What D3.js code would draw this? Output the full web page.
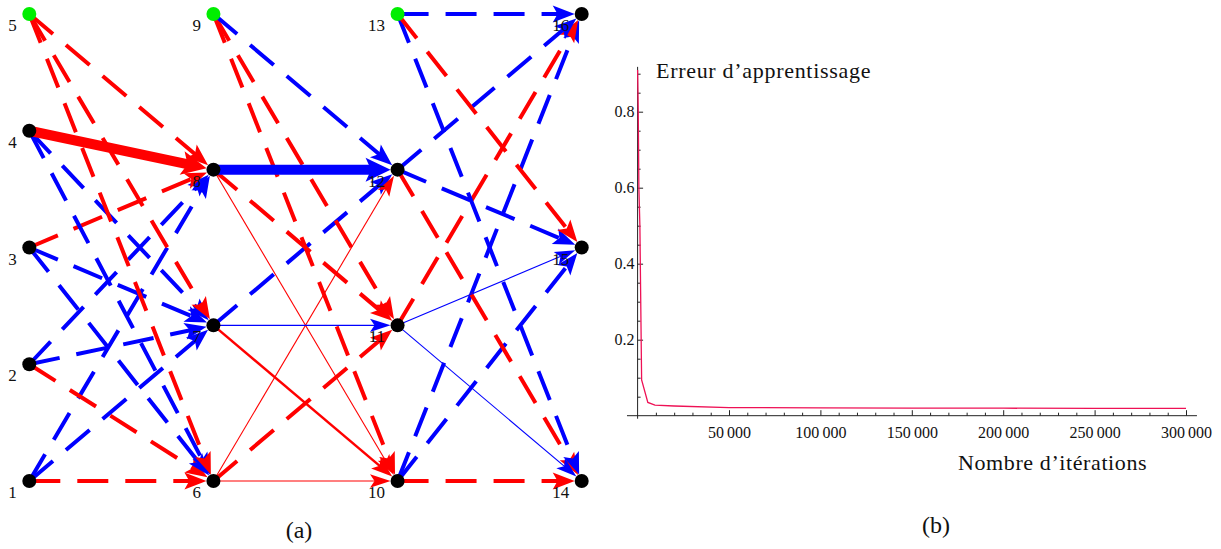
<!DOCTYPE html>
<html><head><meta charset="utf-8">
<script src="https://cdn.jsdelivr.net/npm/d3@7"></script>
<style>body{margin:0;background:#fff}svg{display:block}</style>
</head><body>
<svg id="chart" width="1221" height="549"></svg>
<script>
// ---------------- (a) network data ----------------
const layers = [[1,2,3,4,5],[6,7,8,9],[10,11,12,13],[14,15,16]];
const biasNodes = [5,9,13];
const edgeFrom   = [1,1,1, 2,2,2, 3,3,3, 4,4,4, 5,5,5,  6,6,6, 7,7,7, 8,8,8, 9,9,9,  10,10,10, 11,11,11, 12,12,12, 13,13,13];
const edgeTo     = [6,7,8, 6,7,8, 6,7,8, 6,7,8, 6,7,8,  10,11,12, 10,11,12, 10,11,12, 10,11,12,  14,15,16, 14,15,16, 14,15,16, 14,15,16];
const edgeWeight = [0.5,-0.5,-0.5, 0.5,-0.5,-0.5, -0.5,-0.5,0.5, -0.5,-0.5,4.0, 0.5,0.5,0.5,
                    0.4,0.5,0.4, 1.0,-0.45,-0.5, 0.4,0.5,-4.0, 0.5,0.5,-0.5,
                    0.5,-0.5,-0.5, -0.45,-0.45,0.5, 0.5,-0.5,-0.5, -0.5,0.5,-0.5];
const edgeDashed = [1,1,1, 1,1,1, 1,1,1, 1,1,0, 1,1,1,
                    0,1,0, 0,0,1, 0,1,0, 1,1,1,
                    1,1,1, 0,0,1, 1,1,1, 1,1,1];

// ---------------- (b) learning curve data ----------------
const iterations = [0, 330, 700, 1250, 2200, 5600, 9500, 20000, 50000, 100000, 150000, 200000, 250000, 300000];
const errors     = [0.91, 0.81, 0.60, 0.50, 0.094, 0.035, 0.028, 0.0255, 0.0215, 0.0205, 0.020, 0.0197, 0.0195, 0.0193];
const xMajorTicks = [50000, 100000, 150000, 200000, 250000, 300000];
const yMajorTicks = [0.2, 0.4, 0.6, 0.8];
const xTitle = "Nombre d\u2019itérations";
const yTitle = "Erreur d\u2019apprentissage";
const panelLabels = ["(a)", "(b)"];

const svg = d3.select("#chart");
const serif = "'Liberation Serif', 'Times New Roman', serif";

// ================= (a) =================
const gx = d3.scaleLinear().domain([0, 3]).range([29.3, 581.7]);
const gy = d3.scaleLinear().domain([0, 1]).range([481, 14]);
const nodes = new Map();
layers.forEach((ids, L) => ids.forEach((id, i) => {
  nodes.set(id, {id, x: gx(L), y: gy(i / (ids.length - 1)), bias: biasNodes.includes(id)});
}));
const wScale = d3.scaleLinear().domain([0, 4]).range([0, 10]);
const edges = edgeFrom.map((s, k) => ({s: nodes.get(s), t: nodes.get(edgeTo[k]), w: edgeWeight[k], dashed: !!edgeDashed[k]}));
edges.forEach(e => { e.width = e.dashed ? 4 : Math.max(1.1, wScale(Math.abs(e.w))); });
const ordered = edges.slice().sort((a, b) => (b.dashed - a.dashed) || (a.width - b.width));

const gA = svg.append("g");
const R = 7;
ordered.forEach(e => {
  const dx = e.t.x - e.s.x, dy = e.t.y - e.s.y, len = Math.hypot(dx, dy);
  const ux = dx / len, uy = dy / len, nx = -uy, ny = ux;
  const tip = [e.t.x - ux * R, e.t.y - uy * R];
  const L = 20 + e.width * 0.5, hw = 6 + e.width * 0.6;
  const col = e.w > 0 ? "#ff0000" : "#0000ff";
  const endL = [tip[0] - ux * L * 0.7, tip[1] - uy * L * 0.7];
  gA.append("line")
    .attr("x1", e.s.x).attr("y1", e.s.y).attr("x2", endL[0]).attr("y2", endL[1])
    .attr("stroke", col).attr("stroke-width", e.width)
    .attr("stroke-dasharray", e.dashed ? "31,17" : null);
  const base = [tip[0] - ux * L, tip[1] - uy * L];
  const notch = [tip[0] - ux * L * 0.78, tip[1] - uy * L * 0.78];
  gA.append("path")
    .attr("d", `M${tip[0]},${tip[1]}L${base[0] + nx * hw},${base[1] + ny * hw}L${notch[0]},${notch[1]}L${base[0] - nx * hw},${base[1] - ny * hw}Z`)
    .attr("fill", col);
});
gA.selectAll("circle.node").data([...nodes.values()]).join("circle")
  .attr("class", "node").attr("cx", d => d.x).attr("cy", d => d.y).attr("r", R)
  .attr("fill", d => d.bias ? "#00ee00" : "#000");
gA.selectAll("text.lbl").data([...nodes.values()]).join("text")
  .attr("class", "lbl").attr("x", d => d.x - 12.5).attr("y", d => d.y + 17)
  .attr("text-anchor", "end").attr("font-family", serif).attr("font-size", 17)
  .attr("fill", "#111").text(d => d.id);

// ================= (b) =================
const x = d3.scaleLinear().domain([0, 300000]).range([637.6, 1186]);
const y = d3.scaleLinear().domain([0, 0.8]).range([415.7, 111.7]);
const gB = svg.append("g");
const axisCol = "#222";
const locale = d3.formatLocale({decimal: ".", thousands: "\u2009", grouping: [3], currency: ["", ""]});
const fmtX = locale.format(",");

// axis lines
gB.append("line").attr("x1", x(-5800)).attr("x2", x(306000)).attr("y1", y(0)).attr("y2", y(0))
  .attr("stroke", axisCol).attr("stroke-width", 1);
gB.append("line").attr("x1", x(0)).attr("x2", x(0)).attr("y1", y(-0.008)).attr("y2", y(0.918))
  .attr("stroke", axisCol).attr("stroke-width", 1);

// x minor ticks
const xMinor = d3.range(10000, 300001, 10000).filter(v => !xMajorTicks.includes(v));
gB.append("g").attr("transform", `translate(0,${y(0)})`)
  .call(d3.axisBottom(x).tickValues(xMinor).tickSize(-3).tickFormat(""))
  .call(g => g.select(".domain").remove())
  .call(g => g.selectAll("line").attr("stroke", axisCol));
gB.append("g").attr("transform", `translate(0,${y(0)})`)
  .call(d3.axisBottom(x).tickValues(xMajorTicks).tickSize(-5.5).tickPadding(10.5).tickFormat(fmtX))
  .call(g => g.select(".domain").remove())
  .call(g => g.selectAll("line").attr("stroke", axisCol))
  .call(g => g.selectAll("text").attr("font-family", serif).attr("font-size", 16).attr("fill", "#111"));

// y ticks
const yMinor = d3.range(1, 19).map(i => +(i * 0.05).toFixed(2)).filter(v => !yMajorTicks.includes(v));
gB.append("g").attr("transform", `translate(${x(0)},0)`)
  .call(d3.axisLeft(y).tickValues(yMinor).tickSize(-3).tickFormat(""))
  .call(g => g.select(".domain").remove())
  .call(g => g.selectAll("line").attr("stroke", axisCol));
gB.append("g").attr("transform", `translate(${x(0)},0)`)
  .call(d3.axisLeft(y).tickValues(yMajorTicks).tickSize(-5.5).tickPadding(3).tickFormat(d3.format(".1f")))
  .call(g => g.select(".domain").remove())
  .call(g => g.selectAll("line").attr("stroke", axisCol))
  .call(g => g.selectAll("text").attr("font-family", serif).attr("font-size", 16).attr("fill", "#111"));

// curve
const pts = iterations.map((v, i) => [v, errors[i]]);
gB.append("path").datum(pts)
  .attr("d", d3.line().x(d => x(d[0])).y(d => y(d[1])))
  .attr("fill", "none").attr("stroke", "#ee1155").attr("stroke-width", 1.3);

// titles
gB.append("text").attr("x", 656).attr("y", 78).attr("font-family", serif).attr("font-size", 22)
  .attr("letter-spacing", 0.7).attr("fill", "#111").text(yTitle);
gB.append("text").attr("x", 958).attr("y", 470).attr("font-family", serif).attr("font-size", 22)
  .attr("letter-spacing", 0.6).attr("fill", "#111").text(xTitle);

// panel labels
svg.append("text").attr("x", 299).attr("y", 538).attr("text-anchor", "middle")
  .attr("font-family", serif).attr("font-size", 24).attr("fill", "#111").text(panelLabels[0]);
svg.append("text").attr("x", 936).attr("y", 533).attr("text-anchor", "middle")
  .attr("font-family", serif).attr("font-size", 24).attr("fill", "#111").text(panelLabels[1]);
</script>
</body></html>
